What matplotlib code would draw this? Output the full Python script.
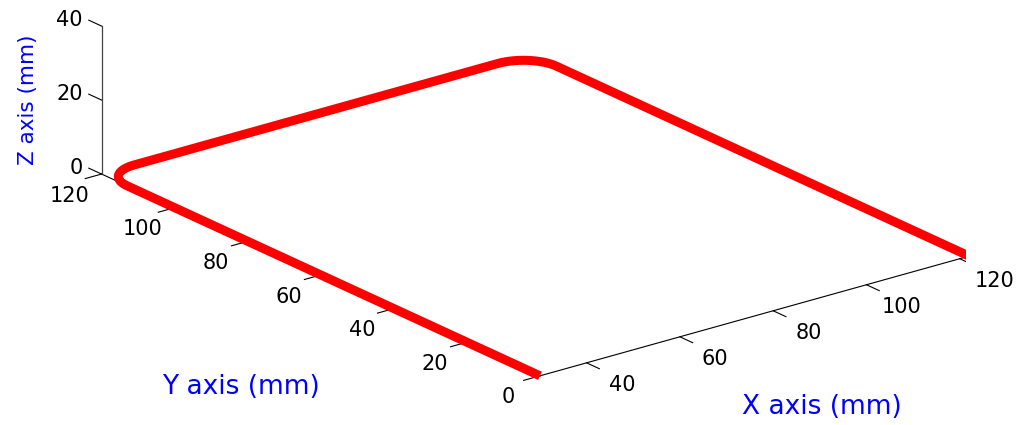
import numpy as np
import matplotlib.pyplot as plt

# tool path corners (mm), the path stays in the z = 0 plane
path_x = [30, 30, 122, 122]
path_y = [0, 120, 120, 0]
corner_radius = 7

x_lim = (30, 122)
y_lim = (0, 120)
z_lim = (0, 40)
x_ticks = [40, 60, 80, 100, 120]
y_ticks = [0, 20, 40, 60, 80, 100, 120]
z_ticks = [0, 20, 40]


def rounded_path(xs, ys, r, n=25):
    """Replace each right-angle corner of a polyline with a circular fillet."""
    pts = [np.array([xs[0], ys[0]], float)]
    for i in range(1, len(xs) - 1):
        p = np.array([xs[i], ys[i]], float)
        a = np.array([xs[i - 1], ys[i - 1]], float) - p
        b = np.array([xs[i + 1], ys[i + 1]], float) - p
        a /= np.linalg.norm(a)
        b /= np.linalg.norm(b)
        centre = p + (a + b) * r
        for t in np.linspace(0, np.pi / 2, n):
            pts.append(centre - r * (b * np.cos(t) + a * np.sin(t)))
    pts.append(np.array([xs[-1], ys[-1]], float))
    pts = np.array(pts)
    return pts[:, 0], pts[:, 1]


px, py = rounded_path(path_x, path_y, corner_radius)
pz = np.zeros_like(px)

fig = plt.figure(figsize=(10.19, 4.25), dpi=100)
# square 3d axes, bigger than the figure so the box lands like the matlab view
ax = fig.add_axes([0.0796, -0.4007, 0.8680, 2.0812], projection='3d', proj_type='ortho')
ax.set_box_aspect((543.8, 713.6, 158.5))
ax.view_init(elev=21.0, azim=-127.9)
ax.set_xlim(*x_lim, view_margin=0)
ax.set_ylim(*y_lim, view_margin=0)
ax.set_zlim(*z_lim, view_margin=0)
ax.set_axis_off()
ax.computed_zorder = False

M = ax.get_proj()


def label_at(x, y, z, s, **kw):
    # project the 3d anchor once and put a plain 2d text there
    v = M @ np.array([x, y, z, 1.0])
    ax.text2D(v[0] / v[3], v[1] / v[3], s, transform=ax.transData, **kw)


x0, x1 = x_lim
y0, y1 = y_lim
axis_kw = dict(color='black', lw=0.8, zorder=1)
tick_font = dict(fontsize=15, color='black', zorder=3)

# matlab style axis lines
ax.plot([x0, x1], [y0, y0], [0, 0], **axis_kw)
ax.plot([x0, x0], [y0, y1], [0, 0], **axis_kw)
ax.plot([x0, x0], [y1, y1], list(z_lim), color='#444444', lw=0.9, zorder=1)

for xt in x_ticks:
    ax.plot([xt, xt], [y0, y0 - 3.5], [0, 0], **axis_kw)
    label_at(xt - 1.7, y0 - 11.8, 0, str(xt), ha='center', va='center', **tick_font)
for yt in y_ticks:
    ax.plot([x0, x0 - 3.5], [yt, yt], [0, 0], **axis_kw)
    label_at(x0 - 10.5, yt - 4.7, 0, str(yt), ha='center', va='center', **tick_font)
for zt in z_ticks:
    ax.plot([x0, x0], [y1, y1 + 3.5], [zt, zt], **axis_kw)
    label_at(x0, y1 + 5.2, zt - 0.6, str(zt), ha='right', va='center', **tick_font)

ax.plot(px, py, pz, color='red', lw=6.5, solid_capstyle='butt', zorder=2)

fig.text(28 / 1019, 1 - 100 / 425, 'Z axis (mm)', rotation=90, ha='center', va='center',
         color='blue', fontsize=15.5)
fig.text(241 / 1019, 1 - 387 / 425, 'Y axis (mm)', ha='center', va='center',
         color='blue', fontsize=19)
fig.text(822 / 1019, 1 - 407 / 425, 'X axis (mm)', ha='center', va='center',
         color='blue', fontsize=19)

fig.savefig('out.png', dpi=100)
